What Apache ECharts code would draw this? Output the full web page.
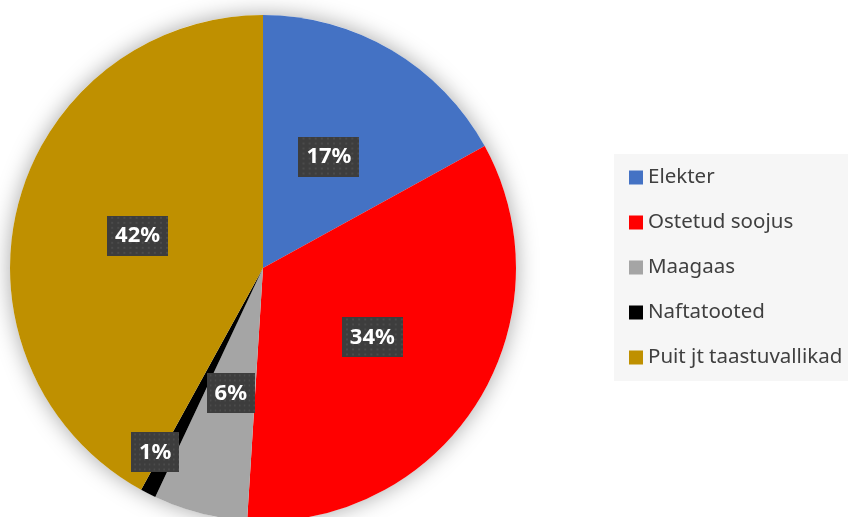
<!DOCTYPE html>
<html>
<head>
<meta charset="utf-8">
<script src="https://cdn.jsdelivr.net/npm/echarts@6/dist/echarts.min.js"></script>
<style>
  html, body { margin: 0; padding: 0; background: #ffffff; }
  #chart { width: 848px; height: 517px; }
</style>
</head>
<body>
<div id="chart"></div>
<script>
// Energy source shares (%)
var categories = ['Elekter', 'Ostetud soojus', 'Maagaas', 'Naftatooted', 'Puit jt taastuvallikad'];
var shares = [17, 34, 6, 1, 42];
var colors = ['#4472C4', '#FF0000', '#A5A5A5', '#000000', '#BF9000'];

// Dotted dark texture for the value boxes
function makeTexture() {
  var c = document.createElement('canvas');
  c.width = 60; c.height = 40;
  var g = c.getContext('2d');
  g.fillStyle = '#3d3d3d';
  g.fillRect(0, 0, 60, 40);
  g.fillStyle = '#4b4b4b';
  for (var y = 1; y < 40; y += 5) {
    for (var x = ((y / 5) % 2 ? 3 : 0) + 1; x < 60; x += 6) {
      g.fillRect(x, y, 2, 2);
    }
  }
  return c;
}
var texture = makeTexture();

var chart = echarts.init(document.getElementById('chart'), null, { renderer: 'canvas' });

var data = categories.map(function (name, i) {
  return { name: name, value: shares[i], itemStyle: { color: colors[i] } };
});

chart.setOption({
  animation: false,
  backgroundColor: '#ffffff',
  legend: {
    orient: 'vertical',
    left: 614,
    top: 154,
    padding: [13, 16, 13, 15],
    backgroundColor: '#f6f6f6',
    icon: 'rect',
    itemWidth: 14,
    itemHeight: 14,
    itemGap: 24,
    textStyle: { fontFamily: 'Noto Sans', fontSize: 20.5, color: '#404040' },
    data: categories
  },
  series: [
    {
      // soft shadow under the whole disc
      type: 'pie',
      silent: true,
      center: [263, 268],
      radius: 253,
      label: { show: false },
      labelLine: { show: false },
      legendHoverLink: false,
      data: [{ value: 1, name: '', itemStyle: { color: '#ffffff', shadowBlur: 22, shadowColor: 'rgba(0,0,0,0.35)' } }],
      z: 1
    },
    {
      type: 'pie',
      center: [263, 268],
      radius: 253,
      startAngle: 90,
      clockwise: true,
      z: 2,
      itemStyle: { borderWidth: 0 },
      label: {
        show: true,
        position: 'inside',
        formatter: function (p) { return p.value + '%'; },
        color: '#ffffff',
        fontFamily: 'Noto Sans',
        fontWeight: 'bold',
        fontSize: 22,
        lineHeight: 22,
        backgroundColor: { image: texture },
        padding: [10, 8, 8, 8],
        shadowColor: 'rgba(0,0,0,0.55)',
        shadowBlur: 6,
        shadowOffsetX: 4,
        shadowOffsetY: 4
      },
      labelLayout: function (p) {
        if (p.dataIndex === 3) return { dx: -49, dy: 69 };
        return {};
      },
      labelLine: { show: false },
      data: data
    }
  ]
});
</script>
</body>
</html>
